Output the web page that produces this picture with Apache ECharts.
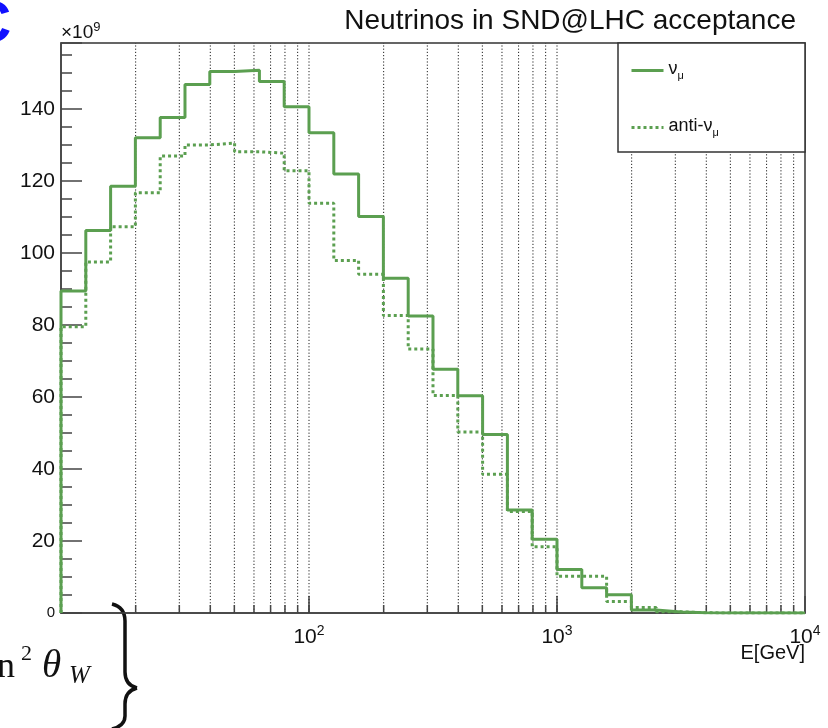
<!DOCTYPE html>
<html>
<head>
<meta charset="utf-8">
<script src="https://cdn.jsdelivr.net/npm/echarts@6/dist/echarts.min.js"></script>
<style>
html, body { margin: 0; padding: 0; background: #fff; }
#chart { width: 828px; height: 728px; }
</style>
</head>
<body>
<div id="chart"></div>
<script>
// bin edges in GeV, 10 log bins per decade
var binEdges = [10, 12.59, 15.85, 19.95, 25.12, 31.62, 39.81, 50.12, 63.10, 79.43,
  100, 125.9, 158.5, 199.5, 251.2, 316.2, 398.1, 501.2, 631.0, 794.3,
  1000, 1259, 1585, 1995, 2512, 3162, 3981, 5012, 6310, 7943, 10000];

// neutrinos per bin (x10^9)
var numu = [89.4, 106.2, 118.5, 132.0, 137.6, 146.8, 150.4, 150.7, 147.6, 140.6,
  133.4, 121.9, 110.1, 93.0, 82.5, 67.7, 60.3, 49.6, 28.6, 20.5,
  12.1, 7.0, 5.1, 0.8, 0.25, 0.05, 0.03, 0.02, 0.01, 0.01];
var antinumu = [79.5, 97.5, 107.3, 116.7, 126.9, 130.0, 130.5, 128.1, 127.7, 122.8,
  113.8, 97.9, 94.1, 82.6, 73.3, 60.4, 50.3, 38.5, 28.2, 18.4,
  10.2, 10.2, 3.2, 1.5, 0.35, 0.05, 0.02, 0.02, 0.02, 0.02];

// dotted vertical grid lines / minor ticks on the log axis
var gridTicks = [20, 30, 40, 50, 60, 70, 80, 90, 100,
  200, 300, 400, 500, 600, 700, 800, 900, 1000,
  2000, 3000, 4000, 5000, 6000, 7000, 8000, 9000];

var yMax = 158.3;
var green = '#5b9f50';
var font = 'Liberation Sans';

function steps(vals) {
  var pts = [[binEdges[0], 0]];
  for (var i = 0; i < vals.length; i++) {
    pts.push([binEdges[i], vals[i]]);
    pts.push([binEdges[i + 1], vals[i]]);
  }
  return pts;
}

var braceStyle = { stroke: '#111', lineWidth: 3.5, fill: 'none' };

var chart = echarts.init(document.getElementById('chart'));

var option = {
  animation: false,
  title: {
    text: 'Neutrinos in SND@LHC acceptance',
    right: 27,
    top: 2,
    textStyle: { fontFamily: font, fontSize: 28, fontWeight: 'normal', color: '#111' }
  },
  legend: {
    data: ['numu', 'antinumu'],
    orient: 'vertical',
    left: 625,
    top: 55,
    itemWidth: 32,
    itemHeight: 20,
    itemGap: 36,
    z: 10,
    selectedMode: false,
    lineStyle: { width: 3 },
    itemStyle: { color: 'rgba(0,0,0,0)', borderWidth: 0, borderColor: 'rgba(0,0,0,0)', opacity: 0 },
    formatter: function (name) {
      return name === 'numu' ? '{t|ν}{s|μ}' : '{t|anti-ν}{s|μ}';
    },
    textStyle: {
      fontFamily: font,
      color: '#111',
      rich: {
        t: { fontSize: 18, fontFamily: font, verticalAlign: 'top', lineHeight: 21 },
        s: { fontSize: 11, fontFamily: font, verticalAlign: 'bottom' }
      }
    }
  },
  grid: {
    left: 61, right: 23, top: 43, bottom: 115,
    show: true,
    borderColor: '#333',
    borderWidth: 1.5,
    containLabel: false,
    outerBoundsMode: 'none'
  },
  xAxis: {
    type: 'log',
    logBase: 10,
    min: 10,
    max: 10000,
    axisLine: { lineStyle: { color: '#444', width: 1.5 } },
    axisTick: { inside: true, length: 17, lineStyle: { color: '#444', width: 1.5 } },
    splitLine: { show: false },
    axisLabel: {
      margin: 11,
      formatter: function (v) {
        var e = Math.round(Math.log10(v));
        if (e < 2) return '';
        return '{b|10}{s|' + e + '}';
      },
      rich: {
        b: { fontSize: 21, fontFamily: font, color: '#111', verticalAlign: 'bottom', lineHeight: 24 },
        s: { fontSize: 14, fontFamily: font, color: '#111', verticalAlign: 'top' }
      }
    }
  },
  yAxis: [{
    type: 'value',
    min: 0,
    max: yMax,
    interval: 20,
    name: '{a|×10}{s|9}',
    nameLocation: 'end',
    nameGap: 1,
    nameTextStyle: {
      align: 'left', verticalAlign: 'bottom',
      rich: {
        a: { fontSize: 19, fontFamily: font, color: '#111', verticalAlign: 'bottom', lineHeight: 21 },
        s: { fontSize: 13, fontFamily: font, color: '#111', verticalAlign: 'top' }
      }
    },
    axisLine: { show: true, lineStyle: { color: '#444', width: 1.5 } },
    axisTick: { inside: true, length: 21, lineStyle: { color: '#444', width: 1.5 } },
    splitLine: { show: false },
    axisLabel: {
      margin: 6,
      formatter: function (v) {
        if (v % 20 !== 0) return '';
        return v === 0 ? '{z|0}' : '{n|' + v + '}';
      },
      rich: {
        n: { fontSize: 21, fontFamily: font, color: '#111' },
        z: { fontSize: 15, fontFamily: font, color: '#111' }
      }
    }
  }, {
    type: 'value',
    min: 0,
    max: yMax,
    interval: 5,
    position: 'left',
    axisLine: { show: false },
    axisTick: { inside: true, length: 11, lineStyle: { color: '#444', width: 1.5 } },
    axisLabel: { show: false },
    splitLine: { show: false }
  }],
  graphic: [
    {
      type: 'rect', z: 5,
      shape: { x: 618, y: 43, width: 187, height: 109 },
      style: { fill: '#fff', stroke: '#333', lineWidth: 1.5 }
    },
    {
      type: 'text', x: 805, y: 643,
      style: { text: 'E[GeV]', font: '20px "Liberation Sans"', fill: '#111', textAlign: 'right', textVerticalAlign: 'top' }
    },
    {
      type: 'text', x: -32, y: 25, z: 5,
      style: { text: 'C', font: 'bold 60px "Liberation Sans"', fill: '#1010ff', textVerticalAlign: 'middle' }
    },
    {
      type: 'text', x: 15, y: 668,
      style: { text: 'n', font: '36px "Liberation Serif"', fill: '#111', textAlign: 'right', textVerticalAlign: 'middle' }
    },
    {
      type: 'text', x: 21, y: 654,
      style: { text: '2', font: '22px "Liberation Serif"', fill: '#111', textVerticalAlign: 'middle' }
    },
    {
      type: 'text', x: 42, y: 667,
      style: { text: 'θ', font: 'italic 39px "Liberation Serif"', fill: '#111', textVerticalAlign: 'middle' }
    },
    {
      type: 'text', x: 69, y: 676,
      style: { text: 'W', font: 'italic 25px "Liberation Serif"', fill: '#111', textVerticalAlign: 'middle' }
    },
    // curly brace
    { type: 'bezierCurve', shape: { x1: 112, y1: 604, cpx1: 120, cpy1: 606, cpx2: 125, cpy2: 611, x2: 125, y2: 621 }, style: braceStyle },
    { type: 'line', shape: { x1: 125, y1: 621, x2: 125, y2: 672 }, style: braceStyle },
    { type: 'bezierCurve', shape: { x1: 125, y1: 672, cpx1: 125, cpy1: 681, cpx2: 129, cpy2: 686, x2: 137, y2: 688 }, style: braceStyle },
    { type: 'bezierCurve', shape: { x1: 137, y1: 688, cpx1: 129, cpy1: 690, cpx2: 125, cpy2: 695, x2: 125, y2: 704 }, style: braceStyle },
    { type: 'line', shape: { x1: 125, y1: 704, x2: 125, y2: 716 }, style: braceStyle },
    { type: 'bezierCurve', shape: { x1: 125, y1: 716, cpx1: 125, cpy1: 723, cpx2: 120, cpy2: 727, x2: 112, y2: 729 }, style: braceStyle }
  ],
  series: [
    {
      type: 'custom',
      silent: true,
      z: 1,
      data: gridTicks.map(function (v) { return [v, 0]; }),
      renderItem: function (params, api) {
        var b = api.coord([api.value(0), 0]);
        var t = api.coord([api.value(0), yMax]);
        return {
          type: 'group',
          children: [
            { type: 'line', shape: { x1: b[0], y1: b[1], x2: b[0], y2: t[1] },
              style: { stroke: '#222', lineWidth: 1, lineDash: [1.2, 2] } },
            { type: 'line', shape: { x1: b[0], y1: b[1], x2: b[0], y2: b[1] - 8 },
              style: { stroke: '#444', lineWidth: 1.5 } }
          ]
        };
      }
    },
    {
      name: 'numu',
      type: 'line',
      data: steps(numu),
      symbol: 'none',
      showSymbol: false,
      z: 3,
      lineStyle: { color: green, width: 3 },
      itemStyle: { color: green }
    },
    {
      name: 'antinumu',
      type: 'line',
      data: steps(antinumu),
      symbol: 'none',
      showSymbol: false,
      z: 3,
      lineStyle: { color: green, width: 3, type: [3, 3] },
      itemStyle: { color: green }
    }
  ]
};

chart.setOption(option);
</script>
</body>
</html>
